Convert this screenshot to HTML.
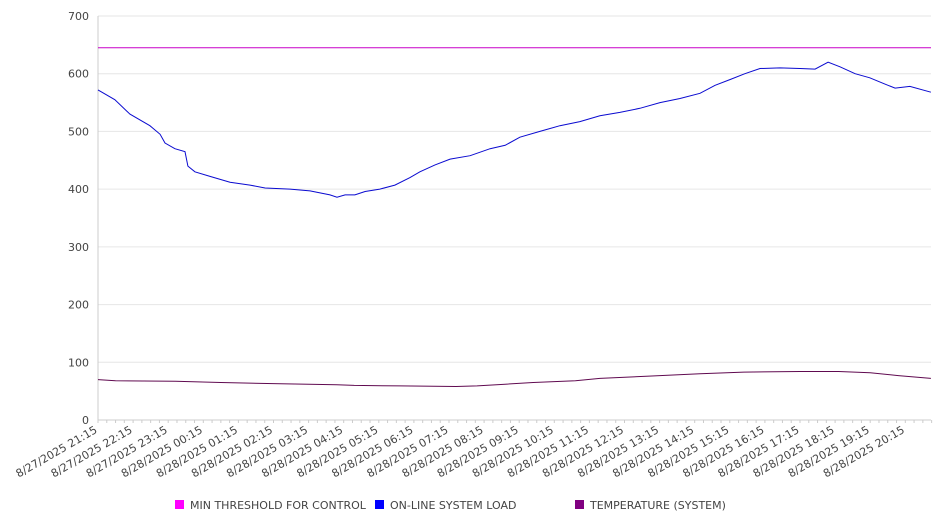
<!DOCTYPE html>
<html><head><meta charset="utf-8"><style>
body{margin:0;background:#fff;font-family:"DejaVu Sans","Liberation Sans",sans-serif;}
svg text{font-family:"DejaVu Sans","Liberation Sans",sans-serif;fill:#444;}
</style></head><body>
<svg id="chart" width="946" height="526" viewBox="0 0 946 526" xmlns="http://www.w3.org/2000/svg">
<g id="grid"></g>
<g id="axes"></g>
<g id="series"></g>
<g id="legend"></g>
</svg>
<script>
const yTicks=[0,100,200,300,400,500,600,700];
const xTickLabels=["8/27/2025 21:15","8/27/2025 22:15","8/27/2025 23:15","8/28/2025 00:15","8/28/2025 01:15","8/28/2025 02:15","8/28/2025 03:15","8/28/2025 04:15","8/28/2025 05:15","8/28/2025 06:15","8/28/2025 07:15","8/28/2025 08:15","8/28/2025 09:15","8/28/2025 10:15","8/28/2025 11:15","8/28/2025 12:15","8/28/2025 13:15","8/28/2025 14:15","8/28/2025 15:15","8/28/2025 16:15","8/28/2025 17:15","8/28/2025 18:15","8/28/2025 19:15","8/28/2025 20:15"];
const thresholdValue=645;
const loadHours=[0,.48,.91,1.48,1.77,1.91,2.19,2.48,2.56,2.76,3.19,3.76,4.33,4.76,5.47,6.04,6.61,6.81,7.04,7.32,7.61,8.03,8.46,8.89,9.17,9.6,10.03,10.6,11.17,11.6,12.02,12.59,13.16,13.73,14.3,14.87,15.44,16.01,16.58,17.15,17.58,18.01,18.43,18.86,19.43,20,20.43,20.8,21.14,21.57,21.99,22.42,22.71,23.13,23.73];
const loadValues=[572,555,530,510,495,480,470,465,440,430,422,412,407,402,400,397,390,386,390,390,396,400,407,420,430,442,452,458,470,476,490,500,510,517,527,533,540,550,557,566,580,590,600,609,610,609,608,620,612,600,593,582,575,578,568];
const tempHours=[0,.5,2.2,3.5,5,6.8,7.3,8.6,10.2,10.8,11.6,12.4,13.6,14.3,15.7,17.15,18.4,20,21.1,22,22.8,23.73];
const tempValues=[70,68,67,65,63,61,60,59,58,59,62,65,68,72,76,80,83,84,84,82,77,72];
const NS="http://www.w3.org/2000/svg";
const X0=98,X1=931,Y0=420,Y1=16,HOUR=35.1;
const xs=h=>X0+h*HOUR, ys=v=>Y0-(v/700)*(Y0-Y1);
function mk(tag,attrs,parent){const e=document.createElementNS(NS,tag);for(const k in attrs)e.setAttribute(k,attrs[k]);parent.appendChild(e);return e;}
const grid=document.getElementById('grid'),axes=document.getElementById('axes'),series=document.getElementById('series'),legend=document.getElementById('legend');
yTicks.forEach(v=>{
 const l=mk('line',{x1:X0,x2:X1,y1:ys(v),y2:ys(v),stroke:'#e6e6e6','stroke-width':1},grid);
 
 
 const t=mk('text',{x:89,y:ys(v)+4,'text-anchor':'end','font-size':11},axes);
 t.textContent=v;
 
 
});
const ax=mk('line',{x1:X0,x2:X0,y1:Y1,y2:Y0,stroke:'#ccc'},axes);


const bx=mk('line',{x1:X0,x2:X1,y1:Y0,y2:Y0,stroke:'#ccc'},axes);


for(let i=0;i<=95;i++){const x=X0+i*HOUR/4;const m=mk('line',{x1:x,x2:x,y1:Y0,y2:Y0+3,stroke:'#ccc'},axes);}
xTickLabels.forEach((s,i)=>{
 const x=xs(i);
 const t=mk('text',{x:x,y:Y0+12,'text-anchor':'end','font-size':11,transform:`rotate(-30 ${x} ${Y0+12})`},axes);
 t.textContent=s;
 
 
});
const th=mk('line',{x1:X0,x2:X1,y1:ys(thresholdValue),y2:ys(thresholdValue),stroke:'#c800c8','stroke-width':1},series);


function path(h,v,color,name){
 const d=h.map((hh,i)=>(i?'L':'M')+xs(hh).toFixed(1)+' '+ys(v[i]).toFixed(1)).join(' ');
 const p=mk('path',{d:d,fill:'none',stroke:color,'stroke-width':1},series);
 
 
}
path(loadHours,loadValues,'#0a0ad0','online-system-load-line');
path(tempHours,tempValues,'#600a50','temperature-line');
[['MIN THRESHOLD FOR CONTROL','#ff00ff',175],['ON-LINE SYSTEM LOAD','#0000ff',375],['TEMPERATURE (SYSTEM)','#800080',575]].forEach(([s,c,x])=>{
 const g=mk('g',{},legend);
 
 
 mk('rect',{x:x,y:500,width:9,height:9,fill:c},g);
 const t=mk('text',{x:x+15,y:509,'font-size':11},g);
 t.textContent=s;
});
</script>
</body></html>
